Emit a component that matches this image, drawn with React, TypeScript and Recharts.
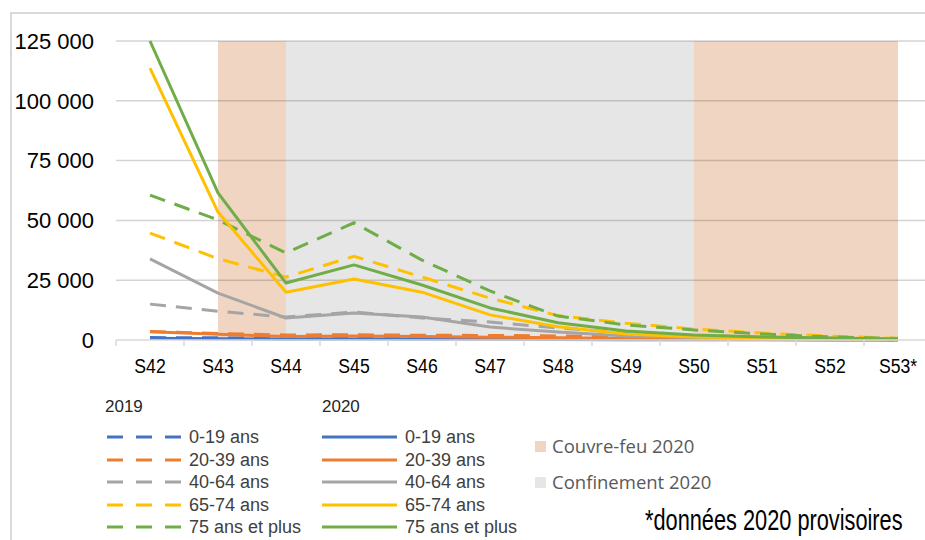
import React from "react";
import { LineChart, Line, XAxis, YAxis, ReferenceArea, ReferenceLine } from "recharts";

const weeks = ["S42", "S43", "S44", "S45", "S46", "S47", "S48", "S49", "S50", "S51", "S52", "S53*"];

// 2019 (pointillés)
const ans0_19_2019 = [1000, 900, 700, 800, 700, 600, 500, 400, 300, 250, 200, 150];
const ans20_39_2019 = [3600, 2700, 2100, 2200, 2000, 1900, 1700, 1400, 1100, 800, 600, 400];
const ans40_64_2019 = [15000, 12000, 9600, 11700, 9200, 7500, 5000, 3000, 1800, 1200, 700, 400];
const ans65_74_2019 = [44700, 34000, 26300, 35000, 26300, 17500, 10200, 7000, 4600, 2900, 1600, 700];
const ans75_2019 = [60600, 50200, 36400, 49000, 33400, 20500, 10000, 6300, 4200, 2500, 1300, 600];

// 2020 (traits pleins)
const ans0_19_2020 = [700, 500, 300, 400, 350, 300, 200, 150, 100, 80, 50, 30];
const ans20_39_2020 = [3400, 2400, 1500, 1700, 1500, 1200, 900, 600, 400, 300, 200, 100];
const ans40_64_2020 = [33900, 19600, 9200, 11300, 9600, 5400, 3300, 1700, 1000, 600, 300, 200];
const ans65_74_2020 = [113700, 53500, 20000, 25500, 20000, 10500, 5500, 2500, 1300, 800, 500, 300];
const ans75_2020 = [125000, 61500, 23800, 31400, 23000, 13400, 7200, 3800, 2100, 1300, 800, 400];

const yTicks = [0, 25000, 50000, 75000, 100000, 125000];

// périodes (indices de semaines)
const couvreFeu = [
  [1, 2],
  [8, 11],
];
const confinement = [[2, 8]];

const ageGroups = ["0-19 ans", "20-39 ans", "40-64 ans", "65-74 ans", "75 ans et plus"];
const colors = ["#4472c4", "#ed7d31", "#a5a5a5", "#ffc000", "#70ad47"];
const series2019 = [ans0_19_2019, ans20_39_2019, ans40_64_2019, ans65_74_2019, ans75_2019];
const series2020 = [ans0_19_2020, ans20_39_2020, ans40_64_2020, ans65_74_2020, ans75_2020];

const data = weeks.map((w, i) => {
  const row: any = { idx: i, week: w };
  series2019.forEach((s, k) => (row["a" + k] = s[i]));
  series2020.forEach((s, k) => (row["b" + k] = s[i]));
  return row;
});

const CHART_W = 933;
const Y_W = 116;
const M_RIGHT = 1;
const BAND = (CHART_W - Y_W - M_RIGHT) / weeks.length;
const boundaryTicks = Array.from({ length: weeks.length + 1 }, (_, i) => i - 0.5);

const fmt = (v: number) => (v === 0 ? "0" : v.toLocaleString("fr-FR").replace(/\s/g, " "));

// étiquettes étroites (style Arial Narrow)
const WeekTick = (props: any) => {
  const { x, y, payload } = props;
  const i = Math.round(payload.value + 0.5);
  if (i >= weeks.length) return null;
  return (
    <text
      transform={`translate(${x + BAND / 2} ${y + 15}) scale(0.84 1)`}
      textAnchor="middle"
      fill="#000"
      style={{ fontFamily: "'Liberation Sans', Arial, sans-serif", fontSize: 21 }}
    >
      {weeks[i]}
    </text>
  );
};

const legendText: React.CSSProperties = {
  position: "absolute",
  fontFamily: "'Liberation Sans', Arial, sans-serif",
  fontSize: 18,
  color: "#404040",
  lineHeight: "22px",
  whiteSpace: "nowrap",
};

export default function App() {
  return (
    <div
      style={{
        position: "absolute",
        left: 0,
        top: 0,
        width: 925,
        height: 540,
        overflow: "hidden",
        background: "#fff",
        fontFamily: "'Liberation Sans', Arial, sans-serif",
      }}
    >
      <div
        style={{
          position: "absolute",
          left: 10,
          top: 12,
          width: 1000,
          height: 600,
          borderLeft: "2px solid #d9d9d9",
          borderTop: "2px solid #d9d9d9",
        }}
      />
      <div style={{ position: "absolute", left: 0, top: 0 }}>
        <LineChart width={CHART_W} height={380} data={data} margin={{ top: 41, right: M_RIGHT, left: 0, bottom: 0 }}>
          {couvreFeu.map(([a, b], i) => (
            <ReferenceArea key={"cf" + i} x1={a} x2={b} y1={0} y2={125000} fill="#f0d5c3" fillOpacity={1} stroke="none" />
          ))}
          {confinement.map(([a, b], i) => (
            <ReferenceArea key={"co" + i} x1={a} x2={b} y1={0} y2={125000} fill="#e6e6e6" fillOpacity={1} stroke="none" />
          ))}
          {yTicks.slice(1).map((t) => (
            <ReferenceLine key={t} y={t} stroke="rgba(0,0,0,0.17)" strokeWidth={1.5} />
          ))}
          <XAxis
            dataKey="idx"
            type="number"
            domain={[-0.5, weeks.length - 0.5]}
            ticks={boundaryTicks}
            interval={0}
            height={40}
            tick={<WeekTick />}
            tickSize={6}
            tickMargin={12}
            tickLine={{ stroke: "#d9d9d9", strokeWidth: 1.5 }}
            axisLine={{ stroke: "#d9d9d9", strokeWidth: 1.5 }}
          />
          <YAxis
            domain={[0, 125000]}
            ticks={yTicks}
            interval={0}
            width={Y_W}
            tickFormatter={fmt}
            tickLine={false}
            axisLine={false}
            tickSize={0}
            tickMargin={22}
            tick={{ fill: "#000", fontSize: 22, fontFamily: "'Liberation Sans', Arial, sans-serif" }}
          />
          {colors.map((c, k) => (
            <Line
              key={"a" + k}
              dataKey={"a" + k}
              type="linear"
              stroke={c}
              strokeWidth={3}
              strokeDasharray="16 10"
              dot={false}
              isAnimationActive={false}
            />
          ))}
          {colors.map((c, k) => (
            <Line
              key={"b" + k}
              dataKey={"b" + k}
              type="linear"
              stroke={c}
              strokeWidth={3}
              strokeLinejoin="round"
              dot={false}
              isAnimationActive={false}
            />
          ))}
        </LineChart>
      </div>

      {/* légende */}
      <div style={{ ...legendText, left: 105, top: 396, fontSize: 17, color: "#262626" }}>2019</div>
      <div style={{ ...legendText, left: 322, top: 396, fontSize: 17, color: "#262626" }}>2020</div>
      {ageGroups.map((g, k) => {
        const cy = 437 + k * 22.6;
        return (
          <React.Fragment key={g}>
            <svg style={{ position: "absolute", left: 0, top: cy - 3 }} width={420} height={6}>
              <line x1={107} x2={182} y1={3} y2={3} stroke={colors[k]} strokeWidth={3} strokeDasharray="16 13" />
              <line x1={322} x2={397} y1={3} y2={3} stroke={colors[k]} strokeWidth={3} />
            </svg>
            <div style={{ ...legendText, left: 189, top: cy - 11 }}>{g}</div>
            <div style={{ ...legendText, left: 405, top: cy - 11 }}>{g}</div>
          </React.Fragment>
        );
      })}
      <div style={{ position: "absolute", left: 535, top: 441, width: 11, height: 11, background: "#f0d5c3" }} />
      <div style={{ ...legendText, left: 552, top: 435, fontFamily: "'Open Sans', sans-serif", fontSize: 18.5, color: "#595959" }}>
        Couvre-feu 2020
      </div>
      <div style={{ position: "absolute", left: 535, top: 477, width: 11, height: 11, background: "#e6e6e6" }} />
      <div style={{ ...legendText, left: 552, top: 471, fontFamily: "'Open Sans', sans-serif", fontSize: 18.5, color: "#595959" }}>
        Confinement 2020
      </div>
      <div
        style={{
          ...legendText,
          left: 645,
          top: 503,
          fontSize: 29,
          lineHeight: "34px",
          color: "#000",
          transform: "scaleX(0.75)",
          transformOrigin: "left center",
        }}
      >
        *données 2020 provisoires
      </div>
    </div>
  );
}
